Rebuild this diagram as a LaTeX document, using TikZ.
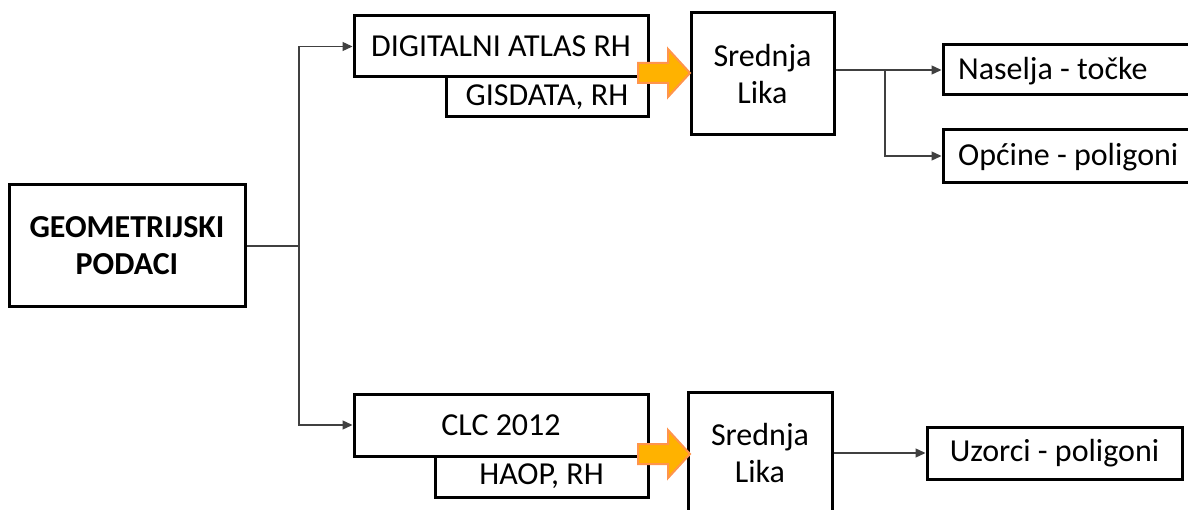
\documentclass[tikz,border=0pt]{standalone}
\usepackage{fontspec}
\setmainfont{Carlito}
\usetikzlibrary{arrows.meta}
\begin{document}
\begin{tikzpicture}[x=1pt,y=-1pt,
  box/.style={draw=black,line width=3pt,fill=white,rectangle,inner sep=0pt,align=center,
    font=\fontsize{32}{37}\selectfont},
  lbl/.style={inner sep=0pt,anchor=west,font=\fontsize{32}{37}\selectfont},
  conn/.style={draw=black!75,line width=1.3pt,-{Triangle[length=10pt,width=9pt]}},
  plain/.style={draw=black!75,line width=1.3pt},
  fat/.style={fill=orange!60!yellow,draw=orange!80!red!70,line width=2pt,line join=miter}]
\useasboundingbox (0,0) rectangle (1188,510);
\clip (0,0) rectangle (1188,510);
\fill[white] (0,0) rectangle (1188,510);

\node[box,minimum width=236pt,minimum height=122pt] (geo) at (127,246) {\bfseries GEOMETRIJSKI\\\bfseries PODACI};

\node[box,minimum width=202pt,minimum height=40pt] (gis) at (547,97) {GISDATA, RH};
\node[box,minimum width=294pt,minimum height=61pt] (dig) at (501,46.5) {DIGITALNI ATLAS RH};
\node[box,minimum width=143pt,minimum height=122pt] (sl1) at (762.5,74) {Srednja\\Lika};

\node[box,minimum width=213pt,minimum height=41pt] (haop) at (541.5,476.5) {HAOP, RH};
\node[box,minimum width=294pt,minimum height=62pt] (clc) at (501,425) {CLC 2012};
\node[box,minimum width=144pt,minimum height=122pt] (sl2) at (760,453) {Srednja\\Lika};

\node[box,minimum width=257pt,minimum height=50pt] (nas) at (1071.5,70) {};
\node[lbl] (nast) at (958,71) {Naselja - točke};
\node[box,minimum width=257pt,minimum height=53pt] (opc) at (1071.5,156) {};
\node[lbl] (opct) at (958,157) {Općine - poligoni};
\node[box,minimum width=255pt,minimum height=52pt] (uz) at (1054.5,453) {Uzorci - poligoni};

% connectors
\coordinate (j1) at (299,246);
\draw[plain] (geo.east) -- (j1);
\draw[conn] (j1) |- (dig.west);
\draw[conn] (j1) |- (clc.west);

\coordinate (j2) at (885,70);
\draw[conn] (sl1.east |- nas.west) -- (nas.west);
\draw[conn] (j2) |- (opc.west);
\draw[conn] (sl2.east |- uz.west) -- (uz.west);

% orange block arrows
\draw[fat] (638,63) -- (668,63) -- (668,49) -- (690,73) -- (668,97) -- (668,83) -- (638,83) -- cycle;
\draw[fat] (638,444) -- (668,444) -- (668,430) -- (690,454) -- (668,478) -- (668,464) -- (638,464) -- cycle;
\end{tikzpicture}
\end{document}
